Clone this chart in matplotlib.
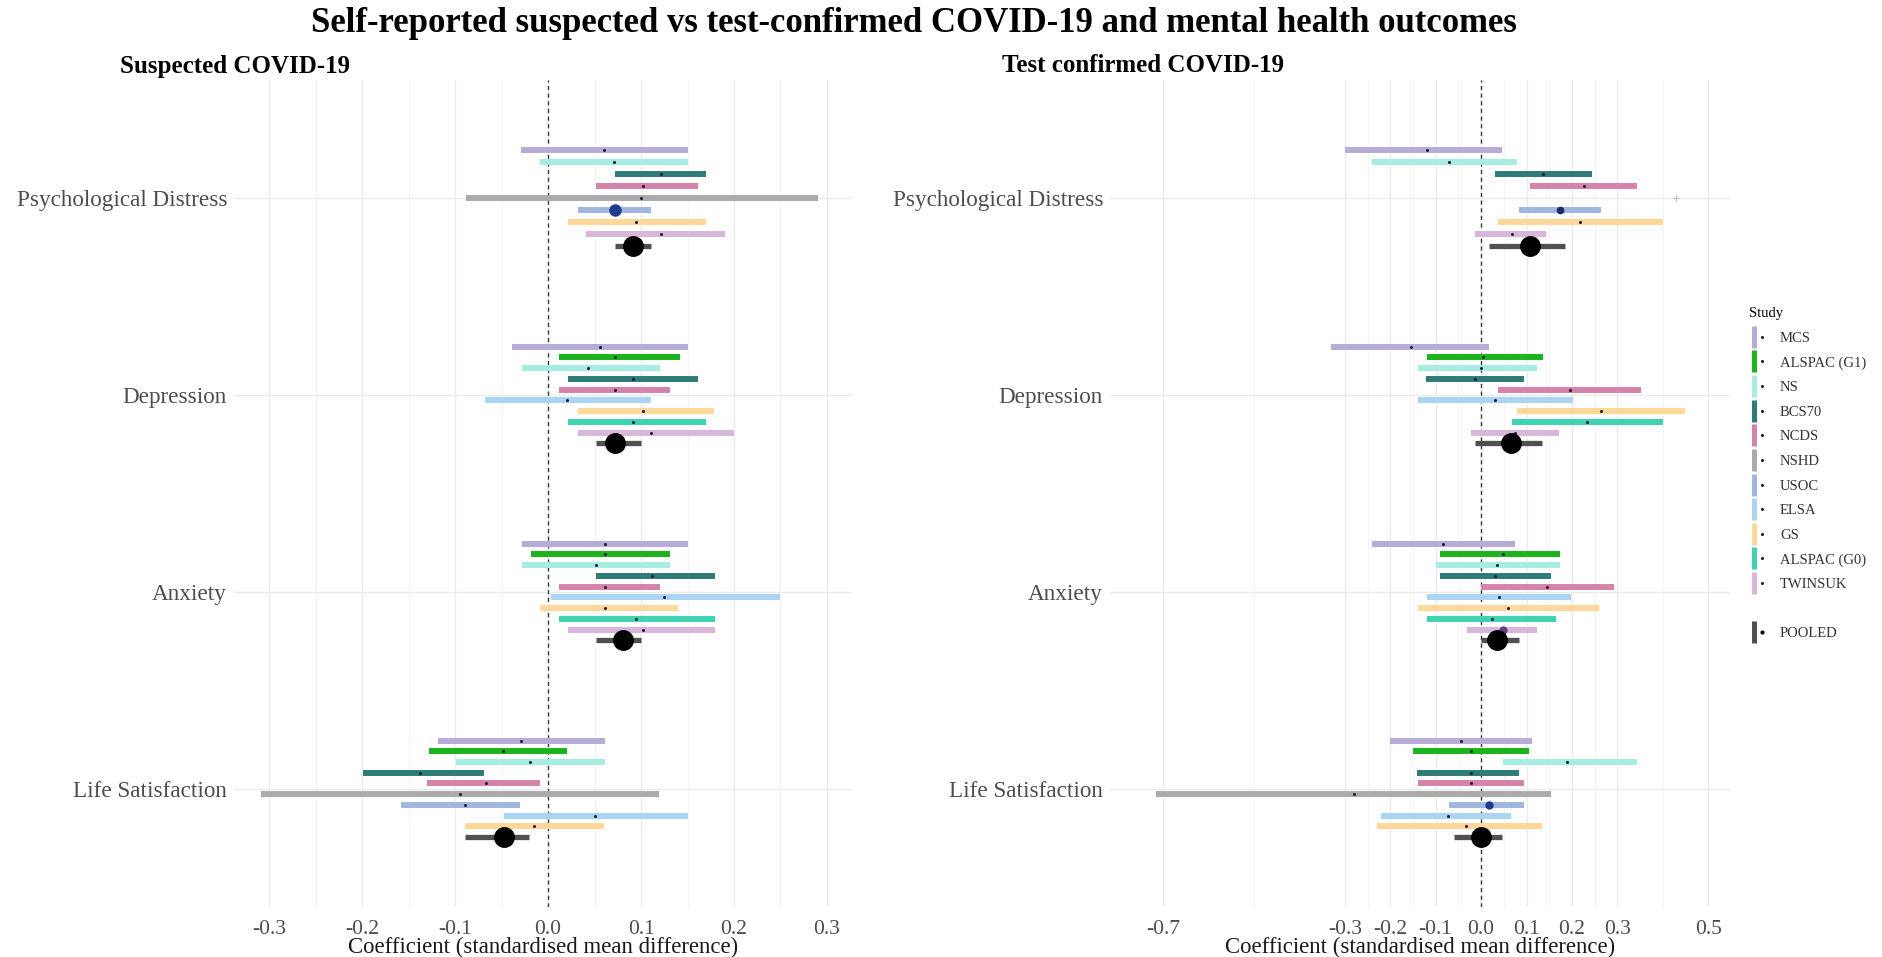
import matplotlib.pyplot as plt
from matplotlib.lines import Line2D
from matplotlib.legend_handler import HandlerTuple
from matplotlib.ticker import FixedLocator

plt.rcParams['font.family'] = ['Liberation Serif', 'DejaVu Serif']

studies = ['MCS', 'ALSPAC (G1)', 'NS', 'BCS70', 'NCDS', 'NSHD', 'USOC',
           'ELSA', 'GS', 'ALSPAC (G0)', 'TWINSUK', 'POOLED']
outcomes = ['Psychological Distress', 'Depression', 'Anxiety', 'Life Satisfaction']

# rows: (study, estimate, lower CI, upper CI)
susp_distress = [
    ('MCS', 0.060, -0.029, 0.151),
    ('NS', 0.071, -0.009, 0.151),
    ('BCS70', 0.122, 0.072, 0.170),
    ('NCDS', 0.102, 0.052, 0.161),
    ('NSHD', 0.100, -0.088, 0.290),
    ('USOC', 0.072, 0.032, 0.111),
    ('GS', 0.095, 0.021, 0.170),
    ('TWINSUK', 0.122, 0.041, 0.190),
    ('POOLED', 0.091, 0.072, 0.111),
]
susp_depression = [
    ('MCS', 0.056, -0.039, 0.151),
    ('ALSPAC (G1)', 0.072, 0.012, 0.142),
    ('NS', 0.043, -0.028, 0.120),
    ('BCS70', 0.091, 0.021, 0.161),
    ('NCDS', 0.072, 0.012, 0.131),
    ('ELSA', 0.020, -0.068, 0.111),
    ('GS', 0.102, 0.032, 0.179),
    ('ALSPAC (G0)', 0.091, 0.021, 0.170),
    ('TWINSUK', 0.111, 0.032, 0.200),
    ('POOLED', 0.072, 0.052, 0.100),
]
susp_anxiety = [
    ('MCS', 0.061, -0.028, 0.151),
    ('ALSPAC (G1)', 0.061, -0.018, 0.131),
    ('NS', 0.052, -0.028, 0.131),
    ('BCS70', 0.112, 0.052, 0.180),
    ('NCDS', 0.061, 0.012, 0.120),
    ('ELSA', 0.125, 0.003, 0.250),
    ('GS', 0.061, -0.009, 0.140),
    ('ALSPAC (G0)', 0.095, 0.012, 0.180),
    ('TWINSUK', 0.102, 0.021, 0.180),
    ('POOLED', 0.081, 0.052, 0.100),
]
susp_lifesat = [
    ('MCS', -0.029, -0.119, 0.061),
    ('ALSPAC (G1)', -0.049, -0.128, 0.020),
    ('NS', -0.020, -0.099, 0.061),
    ('BCS70', -0.138, -0.199, -0.069),
    ('NCDS', -0.067, -0.130, -0.009),
    ('NSHD', -0.095, -0.309, 0.119),
    ('USOC', -0.089, -0.158, -0.030),
    ('ELSA', 0.050, -0.048, 0.150),
    ('GS', -0.015, -0.089, 0.060),
    ('POOLED', -0.048, -0.089, -0.021),
]

conf_distress = [
    ('MCS', -0.120, -0.300, 0.046),
    ('NS', -0.070, -0.240, 0.080),
    ('BCS70', 0.136, 0.030, 0.245),
    ('NCDS', 0.226, 0.107, 0.343),
    ('NSHD', 0.430, None, None),
    ('USOC', 0.174, 0.084, 0.264),
    ('GS', 0.218, 0.038, 0.400),
    ('TWINSUK', 0.067, -0.013, 0.144),
    ('POOLED', 0.107, 0.017, 0.184),
]
conf_depression = [
    ('MCS', -0.155, -0.330, 0.017),
    ('ALSPAC (G1)', 0.004, -0.120, 0.136),
    ('NS', 0.000, -0.138, 0.124),
    ('BCS70', -0.013, -0.121, 0.095),
    ('NCDS', 0.195, 0.038, 0.351),
    ('ELSA', 0.030, -0.140, 0.203),
    ('GS', 0.265, 0.080, 0.450),
    ('ALSPAC (G0)', 0.233, 0.067, 0.400),
    ('TWINSUK', 0.075, -0.023, 0.172),
    ('POOLED', 0.065, -0.013, 0.134),
]
conf_anxiety = [
    ('MCS', -0.084, -0.240, 0.075),
    ('ALSPAC (G1)', 0.049, -0.090, 0.173),
    ('NS', 0.036, -0.100, 0.173),
    ('BCS70', 0.030, -0.090, 0.155),
    ('NCDS', 0.146, 0.000, 0.293),
    ('ELSA', 0.040, -0.119, 0.198),
    ('GS', 0.060, -0.140, 0.260),
    ('ALSPAC (G0)', 0.023, -0.119, 0.166),
    ('TWINSUK', 0.049, -0.030, 0.124),
    ('POOLED', 0.035, 0.000, 0.084),
]
conf_lifesat = [
    ('MCS', -0.044, -0.200, 0.113),
    ('ALSPAC (G1)', -0.023, -0.149, 0.105),
    ('NS', 0.190, 0.049, 0.343),
    ('BCS70', -0.023, -0.142, 0.084),
    ('NCDS', -0.023, -0.140, 0.094),
    ('NSHD', -0.280, -0.715, 0.155),
    ('USOC', 0.017, -0.071, 0.094),
    ('ELSA', -0.073, -0.220, 0.065),
    ('GS', -0.033, -0.230, 0.134),
    ('POOLED', 0.000, -0.060, 0.046),
]

susp_ticks = [-0.3, -0.2, -0.1, 0.0, 0.1, 0.2, 0.3]
susp_minor = [-0.25, -0.15, -0.05, 0.05, 0.15, 0.25]
conf_ticks = [-0.7, -0.3, -0.2, -0.1, 0.0, 0.1, 0.2, 0.3, 0.5]
conf_minor = [-0.5, -0.25, -0.15, -0.05, 0.05, 0.15, 0.25, 0.4]

colors = {
    'MCS': '#B7ACD8', 'ALSPAC (G1)': '#1DB31D', 'NS': '#A6EEE2',
    'BCS70': '#2E7C78', 'NCDS': '#D583A9', 'NSHD': '#ABABAB',
    'USOC': '#A2B7E0', 'ELSA': '#AAD5F2', 'GS': '#FFD899',
    'ALSPAC (G0)': '#3FD3B1', 'TWINSUK': '#D9B6DC', 'POOLED': '#505050',
}
dot_color = '#1C1C3A'
# some estimates are drawn with a larger point
big_points = {
    ('susp', 'Psychological Distress', 'USOC'): (9, '#1F3B8F'),
    ('conf', 'Psychological Distress', 'USOC'): (5.5, '#1A2A6A'),
    ('conf', 'Anxiety', 'TWINSUK'): (6, '#6B3A8C'),
    ('conf', 'Life Satisfaction', 'USOC'): (6, '#1F3B8F'),
}
DODGE = 0.545
grey_text = '#4D4D4D'


def draw_panel(ax, key, groups, xlim, ticks, minor):
    for gi, (outcome, rows) in enumerate(zip(outcomes, groups)):
        n = len(rows)
        for i, (study, est, lo, hi) in enumerate(rows):
            y = gi + (i - (n - 1) / 2) * DODGE / n
            c = colors[study]
            if study == 'POOLED':
                ax.plot([lo, hi], [y, y], color=c, lw=3.8,
                        solid_capstyle='butt', zorder=3)
                ax.plot(est, y, 'o', color='black', ms=14, zorder=4)
                continue
            if lo is not None:
                ax.plot([lo, hi], [y, y], color=c, lw=4.3,
                        solid_capstyle='butt', zorder=2)
                ms, dc = big_points.get((key, outcome, study), (2.2, dot_color))
                ax.plot(est, y, 'o', color=dc, ms=ms, mew=0, zorder=3)
            else:
                ax.plot(est, y, '+', color='#BBBBBB', ms=4, mew=0.8, zorder=3)

    ax.axvline(0, color='#3A3A3A', lw=1.0, ls=(0, (3, 2.5)), zorder=1)
    ax.set_xlim(*xlim)
    ax.set_ylim(3.6, -0.6)
    ax.set_yticks(range(len(outcomes)))
    ax.set_yticklabels(outcomes)
    ax.set_xticks(ticks)
    ax.set_xticklabels([f'{t:.1f}' for t in ticks])
    ax.xaxis.set_minor_locator(FixedLocator(minor))
    ax.grid(True, which='major', color='#EBEBEB', lw=1.0, zorder=0)
    ax.grid(True, which='minor', axis='x', color='#F3F3F3', lw=0.6, zorder=0)
    ax.set_axisbelow(True)
    for s in ax.spines.values():
        s.set_visible(False)
    ax.tick_params(which='both', length=0)
    ax.tick_params(axis='y', pad=5, labelsize=16.7, labelcolor=grey_text)
    ax.tick_params(axis='x', pad=9, labelsize=15.5, labelcolor=grey_text)
    ax.set_xlabel('Coefficient (standardised mean difference)',
                  fontsize=16.4, color='#1A1A1A', labelpad=-1)


fig = plt.figure(figsize=(18.83, 9.57), dpi=100)
W, H = 1883, 957
ax1 = fig.add_axes([234 / W, 1 - 907 / H, (852 - 234) / W, (907 - 80) / H])
ax2 = fig.add_axes([1110 / W, 1 - 907 / H, (1730 - 1110) / W, (907 - 80) / H])

draw_panel(ax1, 'susp', [susp_distress, susp_depression, susp_anxiety, susp_lifesat],
           (-0.338, 0.327), susp_ticks, susp_minor)
draw_panel(ax2, 'conf', [conf_distress, conf_depression, conf_anxiety, conf_lifesat],
           (-0.817, 0.548), conf_ticks, conf_minor)

fig.text(914 / W, 1 - 23 / H,
         'Self-reported suspected vs test-confirmed COVID-19 and mental health outcomes',
         ha='center', va='center', fontsize=25, fontweight='bold')
fig.text(120 / W, 1 - 66 / H, 'Suspected COVID-19', ha='left', va='center',
         fontsize=18, fontweight='bold')
fig.text(1002 / W, 1 - 66 / H, 'Test confirmed COVID-19', ha='left', va='center',
         fontsize=18, fontweight='bold')

# legend: vertical range key with a dot, as in a pointrange legend
handles, labels = [], []
for st in studies:
    if st == 'POOLED':
        handles.append(Line2D([], [], linestyle='none'))
        labels.append('')
        dot = Line2D([], [], marker='o', color='black', ms=3, mew=0, linestyle='none')
    else:
        dot = Line2D([], [], marker='o', color=dot_color, ms=2.2, mew=0, linestyle='none')
    bar = Line2D([], [], marker='|', color=colors[st], ms=16, mew=3.6, linestyle='none')
    handles.append((bar, dot))
    labels.append(st)

leg = fig.legend(handles, labels, handler_map={tuple: HandlerTuple(ndivide=None)},
                 loc='upper left', bbox_to_anchor=(1742 / W, 1 - 300 / H),
                 frameon=False, title='Study', fontsize=10.5, title_fontsize=10.5,
                 labelspacing=0.78, handlelength=1.2, handletextpad=0.9,
                 alignment='left', borderpad=0)
for t in leg.get_texts():
    t.set_color('#333333')

fig.savefig('out.png', dpi=100)
